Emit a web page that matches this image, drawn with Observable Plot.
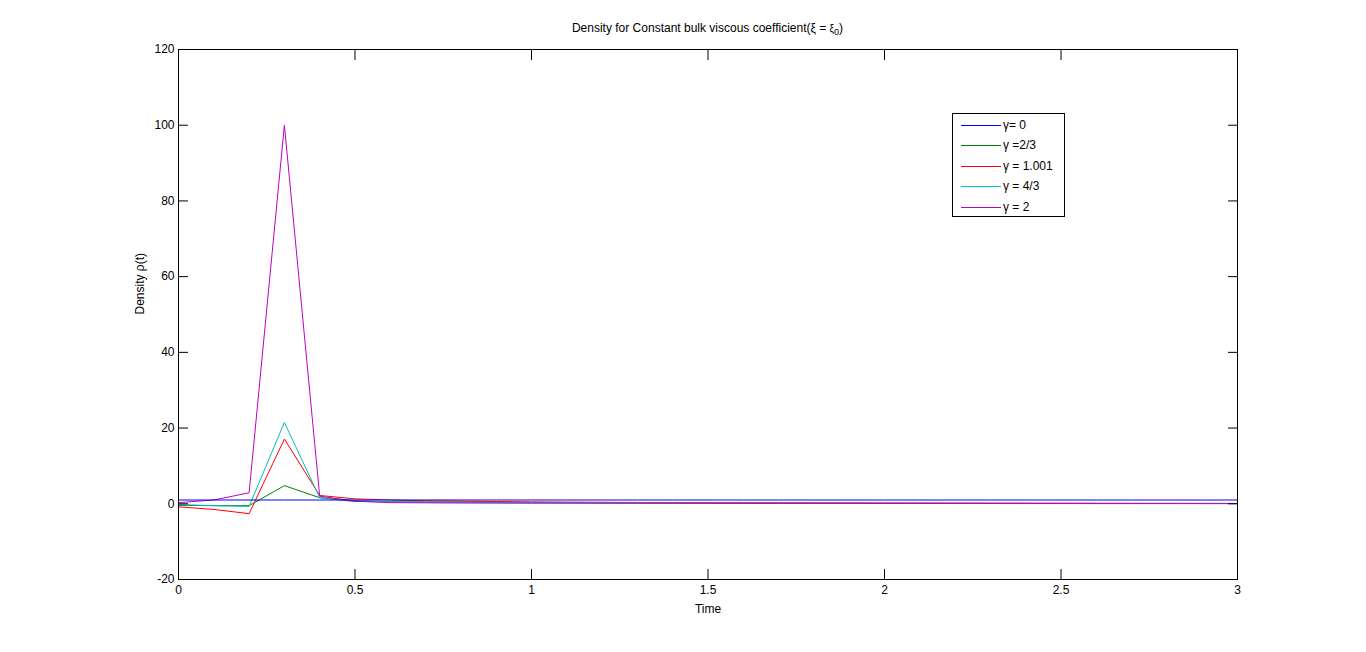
<!DOCTYPE html>
<html>
<head>
<meta charset="utf-8">
<script src="https://cdn.jsdelivr.net/npm/d3@7"></script>
<script src="https://cdn.jsdelivr.net/npm/@observablehq/plot@0.6"></script>
<style>
  html, body { margin: 0; padding: 0; background: #fff; }
  #wrap { position: relative; width: 1366px; height: 652px; font-family: "Liberation Sans", Arial, sans-serif; color: #000; }
  #title { position: absolute; left: 178px; width: 1059px; top: 21px; text-align: center; font-size: 12px; }
  #title .small { font-size: 10px; }
  #title sub { font-size: 9px; vertical-align: -3px; }
  #legend { position: absolute; left: 952px; top: 113px; }
</style>
</head>
<body>
<div id="wrap">
  <div id="chart"></div>
  <div id="title">Density for Constant bulk viscous coefficient(ξ = <span class="small">ξ<sub>0</sub></span>)</div>
  <div id="legend"></div>
</div>
<script>
const time = [0,0.1,0.2,0.3,0.4,0.5,0.6,0.7,0.8,0.9,1.0,1.1,1.2,1.3,1.4,1.5,1.6,1.7,1.8,1.9,2.0,2.1,2.2,2.3,2.4,2.5,2.6,2.7,2.8,2.9,3.0];
const gamma0   = [1,1,1,1,1,1,1,1,1,1,1,1,1,1,1,1,1,1,1,1,1,1,1,1,1,1,1,1,1,1,1];
const gamma23  = [-0.4,-0.5,-0.5,4.8,1.6,0.6,0.55,0.5,0.45,0.4,0.36,0.33,0.3,0.28,0.26,0.24,0.22,0.2,0.19,0.18,0.17,0.16,0.15,0.14,0.13,0.12,0.11,0.1,0.1,0.09,0.08];
const gamma1   = [-0.8,-1.5,-2.6,17.1,2.2,1.3,1.0,0.8,0.7,0.6,0.5,0.45,0.4,0.35,0.3,0.28,0.26,0.24,0.22,0.2,0.18,0.17,0.16,0.15,0.14,0.13,0.12,0.11,0.1,0.1,0.09];
const gamma43  = [-0.2,-0.5,-0.7,21.5,1.6,0.9,0.5,0.4,0.35,0.3,0.28,0.26,0.24,0.22,0.2,0.18,0.17,0.16,0.15,0.14,0.13,0.12,0.11,0.1,0.1,0.09,0.09,0.08,0.08,0.07,0.07];
const gamma2   = [0.3,1.0,2.9,100,2.0,0.7,0.3,0.25,0.2,0.18,0.16,0.15,0.14,0.13,0.12,0.11,0.1,0.1,0.09,0.09,0.08,0.08,0.07,0.07,0.06,0.06,0.05,0.05,0.05,0.04,0.04];

const seriesNames = ["γ= 0", "γ =2/3", "γ = 1.001", "γ = 4/3", "γ = 2"];
const seriesColors = ["#0000ff", "#008000", "#ff0000", "#00bfbf", "#bf00bf"];
const seriesValues = [gamma0, gamma23, gamma1, gamma43, gamma2];

const xTicks = [0, 0.5, 1, 1.5, 2, 2.5, 3];
const yTicks = [-20, 0, 20, 40, 60, 80, 100, 120];

const rows = [];
seriesValues.forEach((vals, i) => vals.forEach((v, j) => rows.push({t: time[j], v, s: seriesNames[i], order: i})));

// draw blue (γ=0) last so it sits on top
const drawOrder = [1, 2, 3, 4, 0];

const fmt = d => String(d);

const chart = Plot.plot({
  width: 1366,
  height: 652,
  marginLeft: 178,
  marginRight: 129,
  marginTop: 49,
  marginBottom: 73,
  style: {fontFamily: '"Liberation Sans", Arial, sans-serif', fontSize: "12px", color: "#000", background: "#fff"},
  x: {domain: [0, 3]},
  y: {domain: [-20, 120]},
  marks: [
    ...drawOrder.map(i => Plot.line(rows.filter(r => r.order === i), {x: "t", y: "v", stroke: seriesColors[i], strokeWidth: 1})),
    Plot.frame({stroke: "#000", strokeWidth: 1}),
    Plot.axisX({ticks: xTicks, tickSize: -10, tickPadding: 16, tickFormat: fmt, label: null}),
    Plot.axisX({anchor: "top", ticks: xTicks, tickSize: -10, tickFormat: () => "", label: null}),
    Plot.axisY({ticks: yTicks, tickSize: -10, tickPadding: 14, tickFormat: fmt, label: null}),
    Plot.axisY({anchor: "right", ticks: yTicks, tickSize: -10, tickFormat: () => "", label: null}),
    Plot.text(["Time"], {frameAnchor: "bottom", dy: 33, text: d => d, fontSize: 12}),
    Plot.text(["Density ρ(t)"], {frameAnchor: "left", dx: -38, rotate: -90, text: d => d, fontSize: 12})
  ]
});
document.getElementById("chart").appendChild(chart);

// Legend box (SVG for crisp 1px swatches)
const lw = 113, lh = 104;
const lsvg = d3.select("#legend").append("svg")
  .attr("width", lw).attr("height", lh)
  .style("font-family", '"Liberation Sans", Arial, sans-serif')
  .style("font-size", "12px");
lsvg.append("rect").attr("x", 0.5).attr("y", 0.5).attr("width", lw - 1).attr("height", lh - 1)
  .attr("fill", "#fff").attr("stroke", "#000");
const rowY = [12, 32, 53, 73, 94];
seriesNames.forEach((name, i) => {
  lsvg.append("line").attr("x1", 9).attr("x2", 49).attr("y1", rowY[i] + 0.5).attr("y2", rowY[i] + 0.5)
    .attr("stroke", seriesColors[i]).attr("stroke-width", 1).attr("shape-rendering", "crispEdges");
  lsvg.append("text").attr("x", 51).attr("y", rowY[i] + 4).text(name);
});
</script>
</body>
</html>
